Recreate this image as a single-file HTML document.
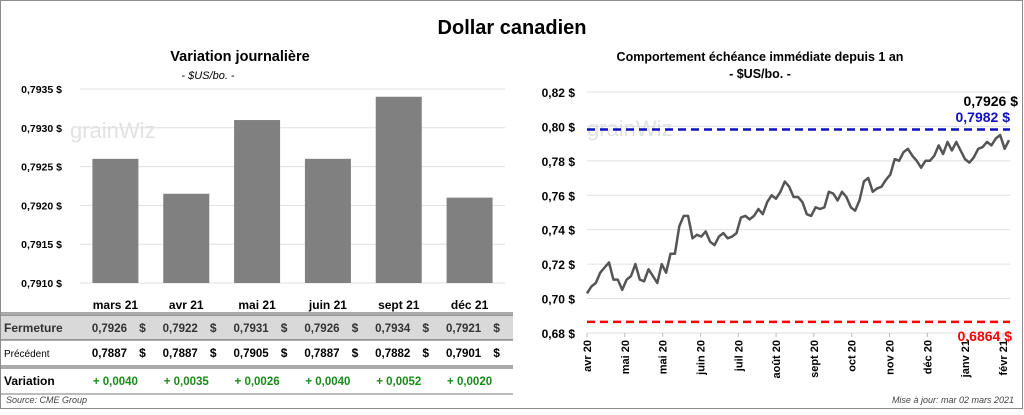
<!DOCTYPE html>
<html><head><meta charset="utf-8"><style>
body{margin:0;background:#fff;font-family:"Liberation Sans",sans-serif;}
svg text{font-family:"Liberation Sans",sans-serif;}
</style></head><body>
<svg id="s" width="1024" height="410" xmlns="http://www.w3.org/2000/svg">
<rect x="0.5" y="0.5" width="1022" height="408" fill="#fff" stroke="#8c8c8c"/>
<text x="512" y="34" font-size="20" font-weight="bold" text-anchor="middle">Dollar canadien</text>
<text x="240" y="61" font-size="14.5" font-weight="bold" text-anchor="middle">Variation  journalière</text>
<text x="208" y="79" font-size="11" font-style="italic" text-anchor="middle">- $US/bo. -</text>
<text x="760" y="61" font-size="12.5" font-weight="bold" text-anchor="middle">Comportement échéance immédiate depuis 1 an</text>
<text x="760" y="78" font-size="12.5" font-weight="bold" text-anchor="middle">- $US/bo. -</text>
<g id="left"></g>
<g id="right"></g>
<g id="table"></g>
<text x="6" y="403" font-size="9" font-style="italic" fill="#444">Source: CME Group</text>
<text x="1014" y="403" font-size="9" font-style="italic" fill="#444" text-anchor="end">Mise à jour: mar 02 mars 2021</text>
</svg>
<script>
const barCats=["mars 21","avr 21","mai 21","juin 21","sept 21","déc 21"];
const barVals=[0.7926,0.79215,0.7931,0.7926,0.7934,0.7921];
const barTicks=[0.7910,0.7915,0.7920,0.7925,0.7930,0.7935];
const closeVals=["0,7926","0,7922","0,7931","0,7926","0,7934","0,7921"];
const prevVals=["0,7887","0,7887","0,7905","0,7887","0,7882","0,7901"];
const varVals=["+ 0,0040","+ 0,0035","+ 0,0026","+ 0,0040","+ 0,0052","+ 0,0020"];
const lineVals=[0.703,0.707,0.709,0.715,0.718,0.721,0.711,0.711,0.705,0.711,0.713,0.720,0.711,0.710,0.717,0.713,0.709,0.720,0.715,0.726,0.726,0.742,0.748,0.748,0.735,0.737,0.736,0.739,0.733,0.731,0.736,0.738,0.735,0.736,0.738,0.747,0.748,0.746,0.748,0.752,0.749,0.756,0.760,0.758,0.762,0.768,0.765,0.759,0.759,0.756,0.749,0.748,0.753,0.752,0.753,0.762,0.761,0.757,0.762,0.759,0.753,0.751,0.757,0.768,0.770,0.762,0.764,0.765,0.769,0.772,0.781,0.780,0.785,0.787,0.783,0.780,0.776,0.780,0.780,0.783,0.789,0.784,0.791,0.786,0.791,0.786,0.781,0.779,0.782,0.787,0.788,0.791,0.789,0.793,0.795,0.787,0.792];
const lineTicks=[0.68,0.70,0.72,0.74,0.76,0.78,0.80,0.82];
const dateLabels=["avr 20","mai 20","mai 20","juin 20","juil 20","août 20","sept 20","oct 20","nov 20","déc 20","janv 21","févr 21"];
const highVal=0.7982, lowVal=0.6864, lastLabel="0,7926 $";
const NS="http://www.w3.org/2000/svg";
function mk(p,t,a,txt){const e=document.createElementNS(NS,t);for(const k in a)e.setAttribute(k,a[k]);if(txt!==undefined)e.textContent=txt;p.appendChild(e);return e;}
const fmt=(v,d)=>v.toFixed(d).replace('.',',');
const L=document.getElementById('left');
const lx0=80,lx1=505,ly=v=>283-(v-0.7910)/0.0025*194;
barTicks.forEach(t=>{
 const g=mk(L,'line',{x1:lx0,x2:lx1,y1:ly(t),y2:ly(t),stroke:'#e0e0e0'});
 
 
 const tx=mk(L,'text',{x:62,y:ly(t)+4,'font-size':10.5,'font-weight':'bold','text-anchor':'end'},fmt(t,4)+' $');
 
 
});
const wm1=mk(L,'text',{x:70,y:138,'font-size':22,fill:'#e2e2e2'},'grainWiz');


const bw=(lx1-lx0)/barCats.length;
barCats.forEach((c,i)=>{
 const cx=lx0+bw*(i+0.5);
 const r=mk(L,'rect',{x:cx-23,y:ly(barVals[i]),width:46,height:283-ly(barVals[i]),fill:'#808080'});
 
 
 const t=mk(L,'text',{x:cx,y:309,'font-size':12,'font-weight':'bold','text-anchor':'middle'},c);
 
 
});
const T=document.getElementById('table');
const bg=mk(T,'rect',{x:1,y:315,width:512,height:25,fill:'#d9d9d9'});


[[313,'#555'],[315,'#555'],[340,'#555'],[366,'#555'],[368,'#555'],[394,'#777']].forEach(([y,c])=>{
 const l=mk(T,'line',{x1:1,x2:513,y1:y,y2:y,stroke:c,'stroke-width':1});
 
 
});
const rows=[["Fermeture",closeVals,332,'#000',' $'],["Précédent",prevVals,357,'#000',' $'],["Variation",varVals,385,'#1a8a1a','']];
rows.forEach(([lab,vals,y,col,suf],ri)=>{
 const h=mk(T,'text',{x:4,y:y,'font-size':ri==1?10:12,'font-weight':ri==1?'normal':'bold',fill:ri==0?'#333':'#000'},lab);
 
 
 vals.forEach((v,i)=>{
  const cx=lx0+bw*(i+0.5);
  const t=mk(T,'text',{x:cx+(suf?-6:0),y:y,'font-size':11.5,'font-weight':'bold',fill:ri==0?'#333':col,'text-anchor':'middle'},v);
  
  
  if(suf){const d=mk(T,'text',{x:cx+27,y:y,'font-size':12,'font-weight':'bold',fill:ri==0?'#333':col,'text-anchor':'middle'},'$');
  
  }
 });
});
const R=document.getElementById('right');
const rx0=587,rx1=1010,ry=v=>92+(0.82-v)*1721;
lineTicks.forEach(t=>{
 const g=mk(R,'line',{x1:rx0,x2:rx1,y1:ry(t),y2:ry(t),stroke:'#e0e0e0'});
 
 
 const tx=mk(R,'text',{x:575,y:ry(t)+5,'font-size':12,'font-weight':'bold','text-anchor':'end'},fmt(t,2)+' $');
 
 
});
const wm2=mk(R,'text',{x:587,y:136,'font-size':22,fill:'#e2e2e2'},'grainWiz');


const step=(1003-587)/(dateLabels.length-1);
dateLabels.forEach((d,i)=>{
 const x=587+i*step;
 const tk=mk(R,'line',{x1:x,x2:x,y1:333,y2:337,stroke:'#bbb'});
 
 
 const t=mk(R,'text',{x:0,y:0,'font-size':11,'font-weight':'bold','text-anchor':'end',transform:`translate(${x+4},340) rotate(-90)`},d);
 
 
});
const hl=mk(R,'line',{x1:rx0,x2:rx1,y1:ry(highVal),y2:ry(highVal),stroke:'#1010c0','stroke-width':2.5,'stroke-dasharray':'8,5'});


const ll=mk(R,'line',{x1:rx0,x2:rx1,y1:ry(lowVal),y2:ry(lowVal),stroke:'#ff0000','stroke-width':2.5,'stroke-dasharray':'8,5'});


const n=lineVals.length;
const pts=lineVals.map((v,i)=>(rx0+(1009-rx0)*i/(n-1)).toFixed(1)+','+ry(v).toFixed(1)).join(' ');
const pl=mk(R,'polyline',{points:pts,fill:'none',stroke:'#555','stroke-width':2.5,'stroke-linejoin':'round'});


const lt=mk(R,'text',{x:1018,y:106,'font-size':14,'font-weight':'bold','text-anchor':'end'},lastLabel);


const ht=mk(R,'text',{x:1010,y:122,'font-size':14,'font-weight':'bold',fill:'#1010c0','text-anchor':'end'},fmt(highVal,4)+' $');


const lo=mk(R,'text',{x:1012,y:341,'font-size':14,'font-weight':'bold',fill:'#ff0000','text-anchor':'end'},fmt(lowVal,4)+' $');


</script>
</body></html>
